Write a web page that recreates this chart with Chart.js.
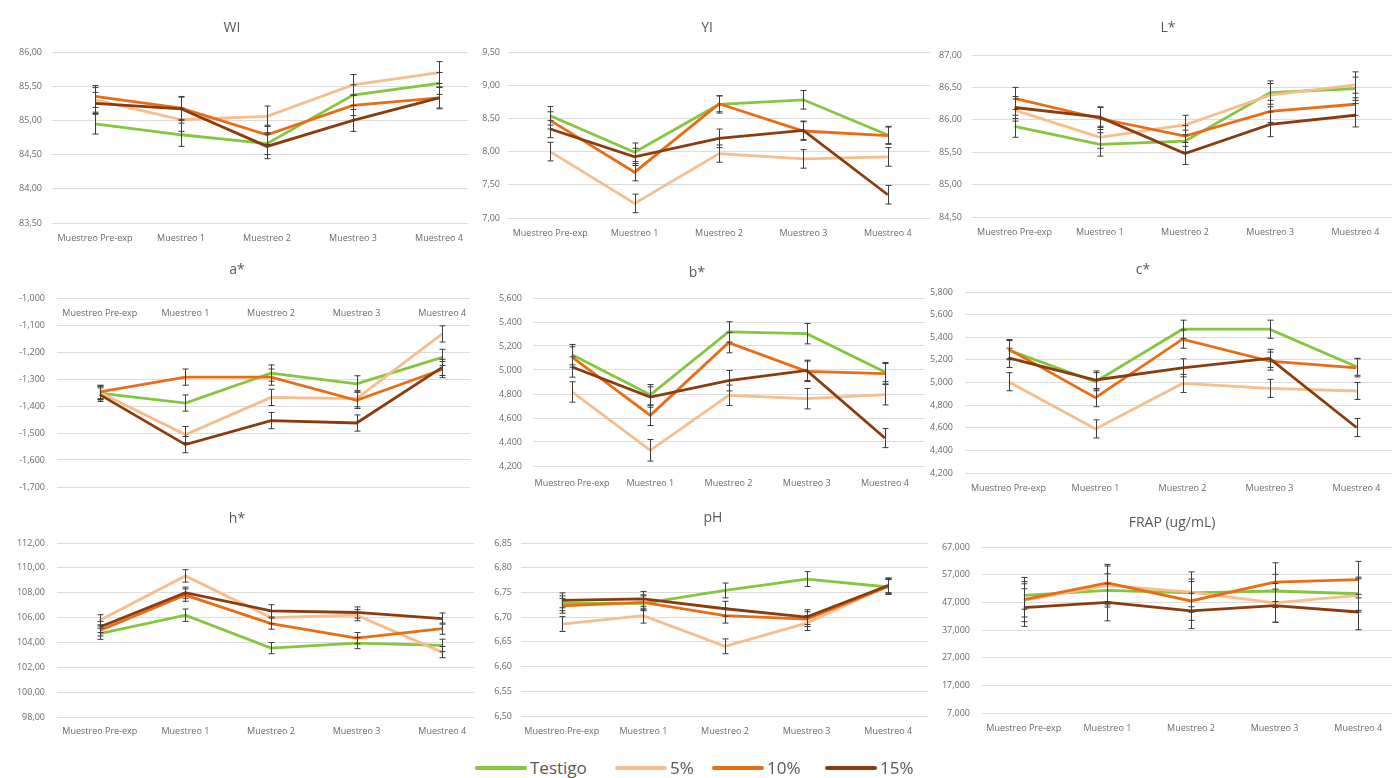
<!DOCTYPE html>
<html>
<head>
<meta charset="utf-8">
<title>Parámetros de calidad por muestreo</title>
<script src="https://cdn.jsdelivr.net/npm/chart.js@4.4.1/dist/chart.umd.min.js"></script>
<style>
  html, body { margin: 0; padding: 0; background: #fff; }
  body { position: relative; width: 1392px; height: 778px; overflow: hidden; font-family: "Open Sans", sans-serif; }
  .panel { position: absolute; background: #fff; }
  .panel canvas { display: block; }
  .legend-item { position: absolute; top: 756px; height: 24px; display: flex; align-items: center; }
  .legend-swatch { width: 52px; height: 4px; border-radius: 2px; margin-right: 3px; }
  .legend-text { font-size: 17px; color: #595959; line-height: 24px; }
</style>
</head>
<body>
<script>
// ---- categories and series ----
const categories = ['Muestreo Pre-exp', 'Muestreo 1', 'Muestreo 2', 'Muestreo 3', 'Muestreo 4'];
const seriesNames = ['Testigo', '5%', '10%', '15%'];

// ---- WI ----  rows: Testigo, 5%, 10%, 15%
const wiValues = [
  [84.95, 84.79, 84.66, 85.37, 85.54],
  [85.30, 85.01, 85.06, 85.52, 85.70],
  [85.35, 85.18, 84.79, 85.22, 85.33],
  [85.25, 85.17, 84.62, 85.00, 85.33]
];
const wiErrors = [
  [0.15, 0.17, 0.16, 0.15, 0.16],
  [0.18, 0.17, 0.15, 0.15, 0.16],
  [0.16, 0.17, 0.14, 0.15, 0.16],
  [0.16, 0.17, 0.18, 0.16, 0.15]
];
const wiAxis = [83.5, 86.0, 0.5, 2];   // min, max, step, decimals

// ---- YI ----
const yiValues = [
  [8.54, 7.99, 8.71, 8.78, 8.25],
  [8.00, 7.22, 7.97, 7.89, 7.92],
  [8.47, 7.69, 8.72, 8.31, 8.24],
  [8.34, 7.92, 8.20, 8.32, 7.35]
];
const yiErrors = [
  [0.14, 0.14, 0.13, 0.14, 0.13],
  [0.14, 0.14, 0.13, 0.14, 0.14],
  [0.13, 0.13, 0.12, 0.14, 0.13],
  [0.13, 0.13, 0.14, 0.14, 0.14]
];
const yiAxis = [7.0, 9.5, 0.5, 2];

// ---- L* ----
const lValues = [
  [85.90, 85.62, 85.67, 86.42, 86.48],
  [86.15, 85.73, 85.92, 86.38, 86.54],
  [86.33, 86.02, 85.75, 86.13, 86.24],
  [86.19, 86.04, 85.48, 85.93, 86.07]
];
const lErrors = [
  [0.17, 0.18, 0.17, 0.18, 0.18],
  [0.17, 0.17, 0.15, 0.18, 0.20],
  [0.17, 0.17, 0.16, 0.17, 0.17],
  [0.17, 0.16, 0.17, 0.19, 0.18]
];
const lAxis = [84.5, 87.0, 0.5, 2];

// ---- a* ----
const aValues = [
  [-1.352, -1.389, -1.278, -1.318, -1.220],
  [-1.350, -1.506, -1.368, -1.373, -1.133],
  [-1.348, -1.293, -1.293, -1.379, -1.265],
  [-1.358, -1.543, -1.454, -1.463, -1.257]
];
const aErrors = [
  [0.025, 0.030, 0.030, 0.030, 0.030],
  [0.025, 0.030, 0.030, 0.030, 0.030],
  [0.025, 0.030, 0.030, 0.030, 0.030],
  [0.025, 0.030, 0.030, 0.030, 0.030]
];
const aAxis = [-1.7, -1.0, 0.1, 3];

// ---- b* ----
const bValues = [
  [5.128, 4.794, 5.317, 5.303, 4.983],
  [4.817, 4.331, 4.789, 4.761, 4.794],
  [5.108, 4.622, 5.228, 4.989, 4.969],
  [5.025, 4.775, 4.911, 4.997, 4.433]
];
const bErrors = [
  [0.085, 0.085, 0.085, 0.085, 0.080],
  [0.085, 0.090, 0.085, 0.085, 0.085],
  [0.085, 0.085, 0.085, 0.085, 0.085],
  [0.085, 0.085, 0.085, 0.085, 0.080]
];
const bAxis = [4.2, 5.6, 0.2, 3];

// ---- c* ----
const cValues = [
  [5.286, 5.007, 5.471, 5.471, 5.139],
  [5.007, 4.590, 4.992, 4.948, 4.925],
  [5.295, 4.866, 5.383, 5.189, 5.130],
  [5.218, 5.022, 5.130, 5.213, 4.602]
];
const cErrors = [
  [0.085, 0.080, 0.080, 0.080, 0.075],
  [0.080, 0.080, 0.080, 0.080, 0.075],
  [0.085, 0.080, 0.080, 0.080, 0.080],
  [0.085, 0.080, 0.080, 0.080, 0.080]
];
const cAxis = [4.2, 5.8, 0.2, 3];

// ---- h* ----
const hValues = [
  [104.70, 106.19, 103.54, 103.95, 103.76],
  [105.78, 109.35, 106.00, 106.19, 103.22],
  [104.97, 107.81, 105.51, 104.35, 105.11],
  [105.24, 108.00, 106.54, 106.41, 105.92]
];
const hErrors = [
  [0.45, 0.50, 0.45, 0.45, 0.50],
  [0.45, 0.50, 0.50, 0.45, 0.45],
  [0.45, 0.50, 0.45, 0.45, 0.45],
  [0.45, 0.45, 0.50, 0.45, 0.45]
];
const hAxis = [98, 112, 2, 2];

// ---- pH ----
const phValues = [
  [6.728, 6.728, 6.754, 6.777, 6.761],
  [6.686, 6.703, 6.641, 6.688, 6.764],
  [6.723, 6.730, 6.703, 6.696, 6.762],
  [6.734, 6.737, 6.717, 6.700, 6.764]
];
const phErrors = [
  [0.015, 0.015, 0.015, 0.015, 0.015],
  [0.015, 0.015, 0.015, 0.015, 0.015],
  [0.015, 0.015, 0.015, 0.015, 0.015],
  [0.015, 0.015, 0.015, 0.015, 0.015]
];
const phAxis = [6.50, 6.85, 0.05, 2];

// ---- FRAP (ug/mL) ----
const frapValues = [
  [49.5, 51.3, 50.4, 51.1, 50.1],
  [47.7, 53.1, 50.7, 46.8, 49.5],
  [48.0, 54.0, 47.5, 54.3, 55.2],
  [45.1, 47.0, 43.9, 45.8, 43.5]
];
const frapErrors = [
  [5.0, 6.0, 5.0, 6.0, 6.0],
  [6.0, 7.0, 7.3, 7.0, 6.0],
  [8.0, 6.7, 7.0, 7.0, 6.6],
  [6.8, 6.7, 6.4, 6.0, 6.4]
];
const frapAxis = [7, 67, 10, 3];

// ---- styling ----
const seriesColors = ['#86C53F', '#F7BD8D', '#E96D17', '#8A3C0E'];
const textColor = '#6a6a6a';
const gridColor = '#dcdcdc';
const fontFamily = "'Open Sans', sans-serif";

// panel geometry: plot box (L,R,T,B), canvas left edge, title centre, tick gap, label gap
const panels = [
  { title: 'WI',           values: wiValues,   errors: wiErrors,   axis: wiAxis,   L: 52,  R: 482,  T: 52,  B: 223, cl: 0,   tx: 232,  ty: 28,  gap: 10, lgap: 10 },
  { title: 'YI',           values: yiValues,   errors: yiErrors,   axis: yiAxis,   L: 508, R: 930,  T: 52,  B: 218, cl: 468, tx: 707,  ty: 28,  gap: 8,  lgap: 10 },
  { title: 'L*',           values: lValues,    errors: lErrors,    axis: lAxis,    L: 972, R: 1398, T: 55,  B: 217, cl: 930, tx: 1168, ty: 28,  gap: 10, lgap: 10 },
  { title: 'a*',           values: aValues,    errors: aErrors,    axis: aAxis,    L: 57,  R: 485,  T: 298, B: 487, cl: 0,   tx: 237,  ty: 270, gap: 12, lgap: 10, topAxis: true },
  { title: 'b*',           values: bValues,    errors: bErrors,    axis: bAxis,    L: 533, R: 924,  T: 298, B: 466, cl: 470, tx: 697,  ty: 273, gap: 11, lgap: 12 },
  { title: 'c*',           values: cValues,    errors: cErrors,    axis: cAxis,    L: 965, R: 1400, T: 292, B: 473, cl: 925, tx: 1143, ty: 270, gap: 12, lgap: 10 },
  { title: 'h*',           values: hValues,    errors: hErrors,    axis: hAxis,    L: 57,  R: 485,  T: 543, B: 717, cl: 0,   tx: 237,  ty: 519, gap: 12, lgap: 9 },
  { title: 'pH',           values: phValues,   errors: phErrors,   axis: phAxis,   L: 521, R: 929,  T: 543, B: 716, cl: 474, tx: 713,  ty: 518, gap: 9,  lgap: 10 },
  { title: 'FRAP (ug/mL)', values: frapValues, errors: frapErrors, axis: frapAxis, L: 982, R: 1400, T: 547, B: 713, cl: 928, tx: 1172, ty: 523, gap: 12, lgap: 10 }
];

// title drawn at a fixed spot of each panel
const panelTitle = {
  id: 'panelTitle',
  afterDraw(chart, args, opts) {
    const ctx = chart.ctx;
    ctx.save();
    ctx.font = '14px ' + fontFamily;
    ctx.fillStyle = '#595959';
    ctx.textAlign = 'center';
    ctx.textBaseline = 'middle';
    ctx.fillText(opts.text, opts.x, opts.y);
    ctx.restore();
  }
};

// vertical error bars with caps, one set per dataset
const errorBars = {
  id: 'errorBars',
  afterDatasetsDraw(chart) {
    const ctx = chart.ctx;
    const yScale = chart.scales.y;
    ctx.save();
    ctx.strokeStyle = '#3c3c3c';
    ctx.lineWidth = 1;
    chart.data.datasets.forEach((ds, di) => {
      const meta = chart.getDatasetMeta(di);
      ds.data.forEach((v, i) => {
        const e = ds.errorBars[i];
        const x = Math.round(meta.data[i].x) + 0.5;
        const yTop = yScale.getPixelForValue(v + e);
        const yBot = yScale.getPixelForValue(v - e);
        ctx.beginPath();
        ctx.moveTo(x, yTop); ctx.lineTo(x, yBot);
        ctx.moveTo(x - 3, yTop); ctx.lineTo(x + 3, yTop);
        ctx.moveTo(x - 3, yBot); ctx.lineTo(x + 3, yBot);
        ctx.stroke();
      });
    });
    ctx.restore();
  }
};

const fmt = (v, d) => Number(v).toFixed(d).replace('.', ',');

const AXIS_H = 30;   // room kept under each plot for the category labels

panels.forEach(p => {
  const top = p.T - 45;
  const width = p.R + 2 - p.cl;
  const height = p.B - top + AXIS_H + 2;
  const box = document.createElement('div');
  box.className = 'panel';
  box.style.left = p.cl + 'px';
  box.style.top = top + 'px';
  box.style.width = width + 'px';
  box.style.height = height + 'px';
  const canvas = document.createElement('canvas');
  canvas.width = width;
  canvas.height = height;
  box.appendChild(canvas);
  document.body.appendChild(box);

  const [yMin, yMax, yStep, dec] = p.axis;
  const datasets = seriesNames.map((name, s) => ({
    label: name,
    data: p.values[s],
    errorBars: p.errors[s],
    borderColor: seriesColors[s],
    backgroundColor: seriesColors[s],
    borderWidth: 2.8,
    pointRadius: 0,
    pointHoverRadius: 0,
    tension: 0,
    order: seriesNames.length - s
  }));

  new Chart(canvas, {
    type: 'line',
    data: { labels: categories, datasets },
    options: {
      responsive: false,
      animation: false,
      devicePixelRatio: 1,
      layout: { padding: { left: 0, right: 2, top: 45, bottom: p.topAxis ? AXIS_H + 2 : 2 } },
      plugins: {
        legend: { display: false },
        tooltip: { enabled: false },
        panelTitle: { text: p.title, x: p.tx - p.cl, y: p.ty - top }
      },
      scales: {
        x: {
          type: 'category',
          offset: true,
          position: p.topAxis ? { y: yMax } : 'bottom',
          grid: { display: false, drawTicks: false },
          border: { display: false },
          ticks: {
            color: textColor,
            font: { family: fontFamily, size: 9 },
            padding: p.lgap,
            maxRotation: 0,
            autoSkip: false
          },
          afterFit: s => { s.height = AXIS_H; }
        },
        y: {
          min: yMin,
          max: yMax,
          grid: { color: gridColor, lineWidth: 1, drawTicks: false },
          border: { display: false },
          ticks: {
            stepSize: yStep,
            color: textColor,
            font: { family: fontFamily, size: 9 },
            padding: p.gap,
            callback: v => fmt(v, dec)
          },
          afterFit: s => { s.width = p.L - p.cl; }
        }
      }
    },
    plugins: [panelTitle, errorBars]
  });
});

// legend along the bottom
const legendLeft = [475, 615, 712, 825];
seriesNames.forEach((name, s) => {
  const item = document.createElement('div');
  item.className = 'legend-item';
  item.style.left = legendLeft[s] + 'px';
  const sw = document.createElement('div');
  sw.className = 'legend-swatch';
  sw.style.background = seriesColors[s];
  const tx = document.createElement('span');
  tx.className = 'legend-text';
  tx.textContent = name;
  item.appendChild(sw);
  item.appendChild(tx);
  document.body.appendChild(item);
});
</script>
</body>
</html>
